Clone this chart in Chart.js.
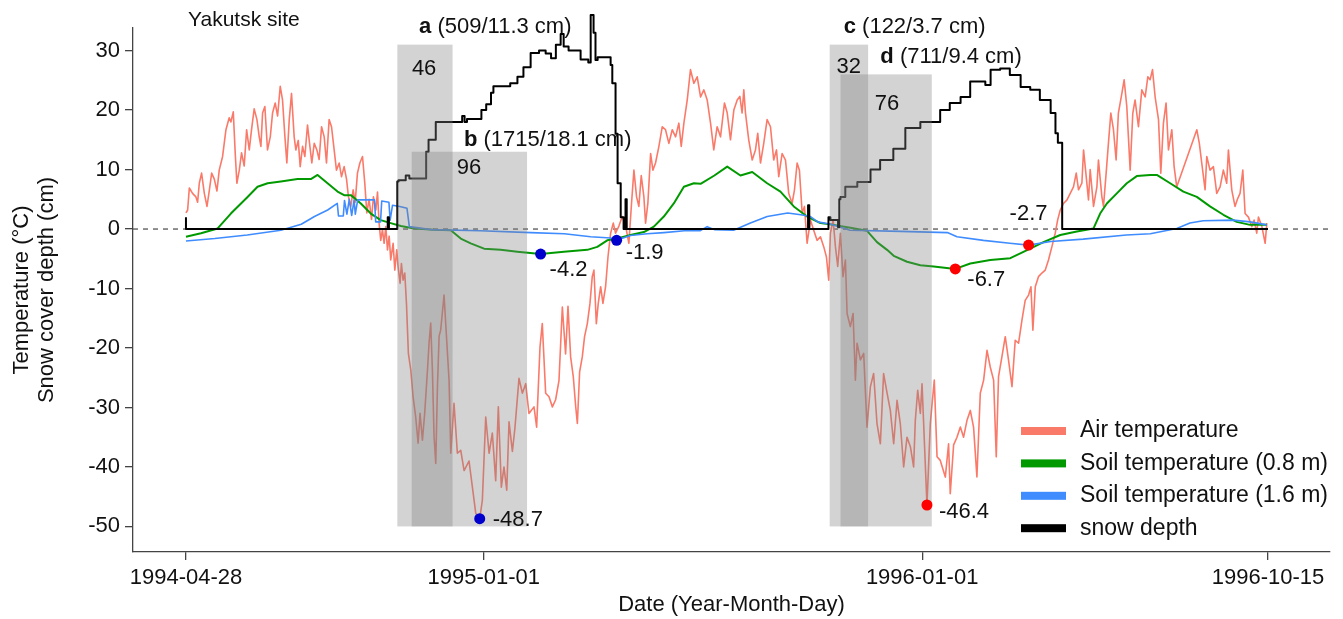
<!DOCTYPE html>
<html>
<head>
<meta charset="utf-8">
<script src="https://cdn.jsdelivr.net/npm/chart.js@4.4.1/dist/chart.umd.min.js"></script>
<style>
  html, body { margin: 0; padding: 0; background: #fff; }
</style>
</head>
<body>
<canvas id="chart" width="1343" height="619"></canvas>
<script>
// ---------- data (x = days since 1994-04-28) ----------
const xTickDays = [0, 248, 613, 901];
const xTickLabels = ["1994-04-28", "1995-01-01", "1996-01-01", "1996-10-15"];
const yTicks = [-50, -40, -30, -20, -10, 0, 10, 20, 30];

const airDays = [0,1.4,2.8,5.5,8.3,9.7,11.1,13,15.3,17.5,19.4,21.4,23.6,25.8,27.7,30.5,33.3,36,37.4,39.4,41,42.4,44.4,46.3,48.5,50.5,52.7,54.6,56.8,59.1,61,62.4,63.8,65.7,67.9,70.2,72.1,74.3,76.3,78.5,80.4,82.4,84,86,87.9,90.1,91.5,93.5,95.1,97.1,99,101.2,103.2,104.8,106.8,109,110.9,112.9,115.1,117,119.2,121.2,123.4,125.3,127.6,129.5,131.7,133.7,135.3,137.3,139.2,140.9,142.8,144.8,147,148.9,150.6,152.5,154.5,156.1,158.1,159.5,160.8,162.2,163.6,165,166.4,167.8,169.2,170.5,172.5,173.9,175.5,176.6,178.3,179.4,180.8,182.2,183.6,185.2,187.2,189.1,191.3,193.3,194.9,196.9,198.8,201.1,202.4,203.8,205.2,206.6,208,209.4,210.8,212.1,214.9,217.1,219.1,220.5,223.2,226,228.8,231.6,235.7,238.5,241.3,244.6,246.8,249.6,252.4,255.1,257.9,260.1,262.6,264.8,267.1,269,271.8,273.9,277.3,280.1,282.9,285.6,289.8,292,294.8,296.7,299.5,302.3,305.1,307.8,310.6,313.4,316.1,318.1,320.3,322.5,324.5,325.9,327.8,330,331.9,334.2,336.4,338.3,339.7,341.7,343.3,345.3,347.2,349.4,351.4,353.6,355.8,357.7,360.5,363.3,366.1,368.8,371,373,375.2,377.1,379.1,381.3,382.7,384.6,386.9,388.8,391,393.8,396.6,399.3,402.1,404.9,407.7,410.4,412.4,414.6,417.4,420.1,422.9,425.7,428.5,431.2,434,436.8,439.5,442.3,445.1,448.4,450.7,453.4,456.2,459,461.2,463.1,464.5,465.9,468.6,471.5,474.2,476.1,478.4,481.1,483.9,486.7,489.4,491.7,493.6,496.4,499.2,501.9,504.7,506.7,508.9,510.8,513.1,515,517.2,520,522.7,525.5,528.3,531.1,533.3,535.2,536.6,538.9,540.8,542.7,544.9,547.1,549.1,550.5,553.2,555.5,557.4,558.8,561.6,564.3,567.1,569.9,572.6,575.4,578.2,580.9,583.8,586.5,589.3,592.1,594.8,597.6,600.4,603.2,605.9,607.3,609.3,611.5,612.9,614.8,617,619.8,623.1,625.4,628.1,632.3,635,636.4,639.2,642,644.8,647.5,650.3,653.1,655.8,658.6,661.4,664.2,667,669.7,672.5,674.7,676.6,679.4,682.2,684.9,687.8,690.5,693.3,696.1,698.8,701.6,703.6,705.2,707.2,709.9,712.7,715.5,718.2,721,723.8,725.8,728,730.7,733.6,736.3,739,741.3,743.2,746,747.4,749.6,751.5,752.9,755.7,758.5,759.8,762.6,764,766.2,768.1,770.1,772.3,774.5,776.4,779.3,781.2,783.4,786.2,788.4,790.3,793.1,795.9,798.7,800.9,802.8,804.8,807,809.8,811.7,813.9,816.1,818.1,820.9,822.8,825,841.7,843.8,845.8,848.6,850,852.7,855.5,858.3,861.1,863.8,866.6,868,870.8,873.5,875.5,877.7,880,881.9,884.7,887.5,889.4,891.6,893,895.8,898.6,900];
const airTemp = [2.7,3.2,6.9,6,5.4,4.5,7.7,9.4,6,3.8,6.4,9.4,8.4,6.4,9.9,12.2,16.7,18.7,18,19.7,12.8,7.7,9.9,12.8,10.6,16.7,13.3,16.7,20.2,18.4,15.5,13.9,19.5,20.6,13.3,15.5,19.5,21.2,19,24,21.7,15.5,11.1,18.4,22.8,15.5,13.3,14.9,10.5,13.9,12.2,17.5,13.9,11.1,14.4,13.3,11.7,17.2,15.5,11.1,18.4,17.2,13.3,9.9,11.1,8.8,10.5,8.4,5.4,3.8,6.6,4.5,9.4,11.1,12.2,7.7,2.7,5,1.6,5.4,3.2,6.2,1,-1.9,-0.1,-2.4,0.4,-3.5,-1.2,-5.2,-2.4,-6.9,-3.5,-6.3,-9.1,-5.8,-8.6,-7.4,-12.5,-20.9,-23.7,-28.2,-31.6,-36,-31,-35.5,-30.9,-23.7,-19.2,-15.8,-23.7,-35,-39.4,-26.5,-18,-17,-11.1,-18.7,-25.5,-37.7,-29.3,-37.7,-37.2,-40.6,-39,-43.4,-47.8,-48.7,-45.6,-31.6,-37.7,-34.3,-42.3,-29.9,-43.4,-40,-43.9,-32.4,-37.4,-33.5,-25.1,-27.6,-26,-31,-29.9,-33.3,-19.8,-15.9,-27.6,-28.2,-29.9,-28.7,-25.5,-13.1,-21,-13,-21.5,-24.8,-29.8,-32.7,-24,-21.5,-18.1,-15.9,-12.5,-8,-6.9,-15.9,-12.5,-9.7,-12.5,-9.7,-4.7,-0.7,1,-0.7,0.5,2.1,0.5,-2.4,4.3,9.9,5.4,3.8,9,5.4,1,4.3,12.7,9.9,11.1,13.9,17.2,16.7,14.4,16.7,15.5,17.8,13.9,17.8,21.7,26.8,24.5,25.6,22.2,23.4,21.7,17.8,13.3,17.2,15.5,21.2,19.5,15,20,21.7,22.3,19.5,23.4,19.5,15,11.6,13.3,16.1,11.1,14.4,18.4,17.2,11.6,13.3,8.8,12.7,11.6,6,4.3,6.6,11.1,9.9,2.7,3.8,-2.4,1.5,-0.2,-1.9,-1.3,-3,-4.7,-8.6,-0.7,1.5,-3,-6.3,-0.7,-8,-5.2,-14.2,-16.4,-14.2,-25.4,-19.2,-22,-20.9,-33.3,-26.5,-24.3,-32.7,-36.1,-24.3,-27.6,-30.5,-36.1,-28.8,-32.7,-40,-35,-36.6,-40,-32.2,-27.1,-31,-26,-35.5,-46.4,-32.7,-25.4,-38.3,-38.9,-41.7,-36.1,-44.5,-36.3,-35,-33.3,-35,-32.2,-30.5,-33.3,-41.7,-27.6,-25.4,-20.4,-23.2,-25.4,-38.3,-24.8,-21.5,-18.1,-22,-26.5,-18.7,-19.2,-15.3,-12,-11.1,-9.7,-17,-9.7,-8,-7.4,-6.9,-5.2,-3,-0.7,1.5,3.2,4.3,4.9,6,7.1,9.4,6.6,7.7,13.3,8.8,4.9,10,3.8,7.1,11.6,5.5,3.8,9.4,14.4,19.5,16.7,11.6,19.5,22.8,25.1,20.6,9.9,19.5,21.7,17.2,23.4,22.2,25.6,25.1,26.8,22.2,18.4,9.4,17.8,21.2,13.3,16.7,10.5,7.1,16.7,14.4,11.1,6.6,12.2,9.9,10.5,6,7.1,9.9,7.7,13.3,6.6,3.8,5,6,9.9,2.6,2,0.4,1.5,-0.7,2,0.5,-2.4,1];

const soil08Days = [0,12.5,26.4,37.4,51.3,59.6,68,79,92.9,104,109.6,117.9,126.2,131.7,137.3,145.6,153.9,162.2,170.5,178.9,190,206.6,220.5,228.8,237.1,248.2,262.1,275.9,295.3,314.7,334.2,342.5,350.8,359.2,370.2,381.3,389.6,397.9,406.2,414.6,422.9,428.5,440,450.7,461.7,471.5,483.9,495,506.1,517.2,528.3,539.3,553.2,567.1,575.4,583.8,589.3,600.4,611.5,622.6,640.6,653.1,669.7,686.4,703,714,728,741.8,755.7,761.2,766.8,775.1,783.4,791.7,802.8,808.4,819.5,830.5,841.7,852.7,863.8,874.9,886,900];
const soil08Temp = [-1.3,-0.7,0.1,2.6,5.4,7.1,7.7,8,8.4,8.4,9.1,7.7,6.3,5.7,5.7,4.3,2.6,1.5,1,0.5,0.1,-0.1,-0.2,-1.6,-2.4,-3.3,-3.5,-3.8,-4.2,-3.8,-3.5,-3,-1.9,-1.6,-1,-0.5,0.4,2.1,4.3,7.1,7.7,7.6,9,10.5,9,9.6,7.7,6.3,3.8,2.1,1,0.7,0.2,-0.3,-2.2,-3.5,-4.5,-5.5,-6.1,-6.3,-6.7,-5.8,-5.2,-4.9,-3.3,-2.2,-1,-0.4,0.1,2.6,4.3,6,7.7,8.9,9.1,9.1,7.7,6.3,5.4,3.8,2.4,1.2,0.7,0.7];

const soil16Days = [0,24,51,79,96,107,118,126,127,131,132,134,136,138,140,141,143,157,158,162,163,169,170,172,178,184,186,204,245,287,315,337,353.6,358.6,370,384,398,415,428,434,440,456,470,484,501,512,520,526,537,553,595,634,642,664,686,701.6,720,747,783,803,825,836,847,872,886,900];
const soil16Temp = [-2,-1.6,-1,-0.2,0.8,2.1,3.2,4.3,2.2,2.2,4.8,2.5,5,2.3,4.9,2.5,4.9,4.9,1.2,1.2,4.7,4.5,1.5,4,3.8,3.5,0.4,-0.1,-0.3,-0.6,-0.8,-1.3,-1.5,-1.9,-1.1,-0.8,-0.6,-0.3,-0.3,0.4,-0.1,-0.2,1,2.1,2.7,2.4,2.1,1.2,0.8,-0.2,-0.4,-0.6,-1.3,-1.9,-2.4,-2.7,-2.1,-1.7,-1,-0.8,0.1,1,1.4,1.5,1.2,0.7];

const snowDays = [0,1.5,168,169,170.5,176,177,183,186,190,200,202,208,212,230,232,234,246,250,254,256,263.5,270,276,281,287,294,299.5,304,308,312,314.5,318.6,328.6,335,337,339.4,341,342.8,353.6,355,357.7,359.4,362,364.4,366,367,368.5,518,519,520.8,535,536.6,540,543,544,545,549,559,570,578,589,599,611.5,628,636,645,653,665.6,670,678,686,695,703,711,720,724,726,729.6,730.5,901];
const snowDepth = [2,0,0,2,0,0,8,8.2,9,8.5,8.5,13,15,18,18,19,18,18.5,20,21,22.9,24,24,24.5,25.6,27.2,29.6,30,29.5,28.7,31,32.8,30.7,30,28.5,28,36,33,28.4,28.9,27.6,24.5,16,7.7,2,0,5,0,0,4,0,0,2,1.5,1.5,0.3,5,5.4,7.1,7.9,10,11.6,13.5,17,18,20,21.2,22.2,24.8,24.2,26.8,27,25.9,23.9,23.4,21.7,19.5,16.1,14.5,0,0];

// marked extremes: 3 for the first winter, 3 for the second
const markDays = [244.6, 295.3, 358.6, 617, 640.6, 701.6];
const markVals = [-48.7, -4.2, -1.9, -46.4, -6.7, -2.7];

// snow-period windows (days)
const boxStart = [176, 188, 536, 545];
const boxEnd = [222, 284, 568, 621];
const boxTop = [31, 13, 31, 26];
const boxBottom = -50;
const boxLetters = ["a", "b", "c", "d"];
const boxNotes = ["(509/11.3 cm)", "(1715/18.1 cm)", "(122/3.7 cm)", "(711/9.4 cm)"];

// ---------- layout / style ----------
const FONT = '"Liberation Sans", Arial, sans-serif';
const markColors = ["#0000cc", "#0000cc", "#0000cc", "#ff0000", "#ff0000", "#ff0000"];
const markLabelOffsets = [[13, 1, "left"], [9, 16, "left"], [9, 13, "left"], [12, 7, "left"], [12, 11, "left"], [0, -31, "center"]];
const titleAnchor = [[194.1, 34.0], [231.5, 15.0], [547.7, 34.0], [578.2, 29.0]];
const countAnchor = [[198.3, 27.0], [235.7, 10.2], [551.8, 27.3], [583.8, 21.1]];

function pairs(xs, ys) {
  return xs.map((x, i) => ({ x: x, y: ys[i] }));
}

const MARKS = 4;

const overlay = {
  id: "overlay",
  beforeDatasetsDraw(chart) {
    // dashed zero line
    const { ctx, chartArea, scales } = chart;
    const y0 = scales.y.getPixelForValue(0);
    ctx.save();
    ctx.strokeStyle = "#555";
    ctx.lineWidth = 1.3;
    ctx.setLineDash([5, 5]);
    ctx.beginPath();
    ctx.moveTo(chartArea.left, y0);
    ctx.lineTo(chartArea.right, y0);
    ctx.stroke();
    ctx.restore();
  },
  beforeDatasetDraw(chart, args) {
    // grey windows sit over the lines, under the marked points
    if (args.index !== MARKS) return;
    const { ctx, scales } = chart;
    ctx.save();
    ctx.fillStyle = "rgba(128,128,128,0.35)";
    for (let i = 0; i < boxStart.length; i++) {
      const x1 = scales.x.getPixelForValue(boxStart[i]);
      const x2 = scales.x.getPixelForValue(boxEnd[i]);
      const y1 = scales.y.getPixelForValue(boxTop[i]);
      const y2 = scales.y.getPixelForValue(boxBottom);
      ctx.fillRect(x1, y1, x2 - x1, y2 - y1);
    }
    ctx.restore();
  },
  afterDatasetsDraw(chart) {
    const { ctx, scales } = chart;
    const sx = scales.x, sy = scales.y;
    ctx.save();
    ctx.fillStyle = "#111";
    ctx.textBaseline = "middle";

    // site name
    ctx.font = "21px " + FONT;
    ctx.textAlign = "left";
    ctx.fillText("Yakutsk site", 188, 20);

    // window titles and lengths
    for (let i = 0; i < boxStart.length; i++) {
      let x = sx.getPixelForValue(titleAnchor[i][0]);
      const y = sy.getPixelForValue(titleAnchor[i][1]);
      ctx.textAlign = "left";
      ctx.font = "bold 22px " + FONT;
      ctx.fillText(boxLetters[i], x, y);
      x += ctx.measureText(boxLetters[i]).width;
      ctx.font = "22px " + FONT;
      x += ctx.measureText(" ").width;
      ctx.fillText(boxNotes[i], x, y);

      ctx.textAlign = "center";
      ctx.fillText(String(boxEnd[i] - boxStart[i]),
        sx.getPixelForValue(countAnchor[i][0]), sy.getPixelForValue(countAnchor[i][1]));
    }

    // extreme value labels
    ctx.font = "22px " + FONT;
    for (let i = 0; i < markDays.length; i++) {
      const px = sx.getPixelForValue(markDays[i]);
      const py = sy.getPixelForValue(markVals[i]);
      const o = markLabelOffsets[i];
      ctx.textAlign = o[2];
      ctx.fillText(markVals[i].toFixed(1), px + o[0], py + o[1]);
    }

    // legend
    const rows = chart.data.datasets.slice(0, 4);
    ctx.font = "23px " + FONT;
    ctx.textAlign = "left";
    rows.forEach((ds, i) => {
      const y = 431 + i * 32.4;
      ctx.fillStyle = ds.borderColor;
      ctx.fillRect(1021, y - 4, 45, 8);
      ctx.fillStyle = "#111";
      ctx.fillText(ds.label, 1080, y);
    });
    ctx.restore();
  }
};

const tickFont = { family: FONT, size: 22 };

new Chart(document.getElementById("chart"), {
  type: "line",
  data: {
    datasets: [
      {
        label: "Air temperature",
        data: pairs(airDays, airTemp),
        borderColor: "#fa7a6a",
        borderWidth: 1.6,
        order: 4
      },
      {
        label: "Soil temperature (0.8 m)",
        data: pairs(soil08Days, soil08Temp),
        borderColor: "#009a00",
        borderWidth: 2,
        order: 3
      },
      {
        label: "Soil temperature (1.6 m)",
        data: pairs(soil16Days, soil16Temp),
        borderColor: "#3f8cff",
        borderWidth: 1.6,
        order: 2
      },
      {
        label: "snow depth",
        data: pairs(snowDays, snowDepth),
        borderColor: "#000000",
        borderWidth: 2,
        stepped: "after",
        clip: false,
        order: 1
      },
      {
        label: "extremes",
        data: pairs(markDays, markVals),
        showLine: false,
        pointRadius: 5.5,
        pointBorderWidth: 0,
        pointBackgroundColor: markColors,
        order: 0
      }
    ]
  },
  options: {
    responsive: false,
    animation: false,
    events: [],
    layout: { padding: { top: 28, right: 13, left: 0, bottom: 0 } },
    elements: {
      point: { radius: 0 },
      line: { tension: 0, borderJoinStyle: "round", fill: false }
    },
    plugins: {
      legend: { display: false },
      tooltip: { enabled: false }
    },
    scales: {
      x: {
        type: "linear",
        min: -44.1,
        max: 952.6,
        afterBuildTicks: (s) => { s.ticks = xTickDays.map((v) => ({ value: v })); },
        afterFit: (s) => { s.height = 67; },
        ticks: {
          autoSkip: false,
          maxRotation: 0,
          font: tickFont,
          color: "#111",
          padding: 5,
          callback: (v, i) => xTickLabels[i]
        },
        grid: { drawOnChartArea: false, tickLength: 8, color: "#444", lineWidth: 1.3 },
        border: { display: true, color: "#444", width: 1.3 },
        title: {
          display: true,
          text: "Date (Year-Month-Day)",
          font: tickFont,
          color: "#111",
          padding: { top: 0, bottom: 1 }
        }
      },
      y: {
        min: -54.3,
        max: 33.8,
        afterBuildTicks: (s) => { s.ticks = yTicks.map((v) => ({ value: v })); },
        afterFit: (s) => { s.width = 133; },
        ticks: { font: tickFont, color: "#111", padding: 5 },
        grid: { drawOnChartArea: false, tickLength: 8, color: "#444", lineWidth: 1.3 },
        border: { display: true, color: "#444", width: 1.3 },
        title: {
          display: true,
          text: ["Temperature (°C)", "Snow cover depth (cm)"],
          font: { family: FONT, size: 22, lineHeight: 1.15 },
          color: "#111",
          padding: { top: 9, bottom: 0 }
        }
      }
    }
  },
  plugins: [overlay]
});
</script>
</body>
</html>
